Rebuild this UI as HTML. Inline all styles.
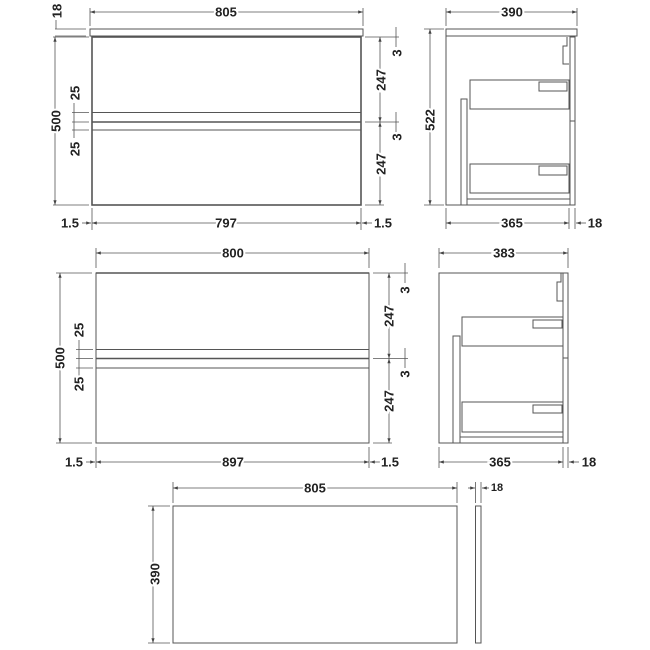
<!DOCTYPE html>
<html><head><meta charset="utf-8"><style>
html,body{margin:0;padding:0;background:#fff}
svg{display:block}
text{font-family:"Liberation Sans",sans-serif;font-weight:bold;font-size:13px;fill:#222;paint-order:stroke;stroke:#fff;stroke-width:4px;text-anchor:middle;dominant-baseline:central}
.l{stroke:#555;stroke-width:1;fill:none}
.b{stroke:#555;stroke-width:1.6;fill:none}
.d{stroke:#555;stroke-width:0.8;fill:none}
</style></head><body>
<svg width="650" height="650" viewBox="0 0 650 650">
<defs>
<marker id="a" viewBox="0 0 6 6" refX="6" refY="3" markerWidth="6" markerHeight="6" orient="auto-start-reverse"><path d="M0,1 L6,3 L0,5z" fill="#444"/></marker>
</defs>

<!-- ===== TOP LEFT FRONT ===== -->
<rect class="l" x="90" y="29" width="273" height="7"/>
<rect class="b" x="92" y="37" width="269" height="168"/>
<line class="l" x1="92" y1="112.5" x2="361" y2="112.5"/>
<line class="b" x1="92" y1="122" x2="361" y2="122"/>
<line class="l" x1="92" y1="130" x2="361" y2="130"/>
<line class="d" x1="90" y1="8" x2="90" y2="26"/><line class="d" x1="363" y1="8" x2="363" y2="26"/>
<line class="d" x1="90" y1="12" x2="363" y2="12" marker-start="url(#a)" marker-end="url(#a)"/>
<text x="226" y="12">805</text>
<line class="d" x1="55" y1="29" x2="86" y2="29"/><line class="d" x1="55" y1="36" x2="86" y2="36"/>
<line class="d" x1="56" y1="20" x2="56" y2="29"/>
<text transform="translate(57,11) rotate(-90)">18</text>
<line class="d" x1="53" y1="37" x2="89" y2="37"/><line class="d" x1="53" y1="205" x2="89" y2="205"/>
<line class="d" x1="55" y1="37" x2="55" y2="205" marker-start="url(#a)" marker-end="url(#a)"/>
<text transform="translate(56,121) rotate(-90)">500</text>
<line class="d" x1="72" y1="112.5" x2="89" y2="112.5"/><line class="d" x1="72" y1="122" x2="89" y2="122"/><line class="d" x1="72" y1="130" x2="89" y2="130"/>
<line class="d" x1="74" y1="103" x2="74" y2="138"/>
<text transform="translate(75,93) rotate(-90)">25</text>
<text transform="translate(75,149) rotate(-90)">25</text>
<line class="d" x1="365" y1="37" x2="399" y2="37"/><line class="d" x1="365" y1="122" x2="399" y2="122"/><line class="d" x1="365" y1="205" x2="384" y2="205"/>
<line class="d" x1="380" y1="37" x2="380" y2="122" marker-start="url(#a)" marker-end="url(#a)"/>
<line class="d" x1="380" y1="122" x2="380" y2="205" marker-start="url(#a)" marker-end="url(#a)"/>
<text transform="translate(381,80) rotate(-90)">247</text>
<text transform="translate(381,164) rotate(-90)">247</text>
<line class="d" x1="396" y1="27" x2="396" y2="47"/><line class="d" x1="396" y1="112" x2="396" y2="132"/>
<text transform="translate(397,53) rotate(-90)">3</text>
<text transform="translate(397,137) rotate(-90)">3</text>
<line class="d" x1="92" y1="208" x2="92" y2="230"/><line class="d" x1="361" y1="208" x2="361" y2="230"/>
<line class="d" x1="92" y1="223" x2="361" y2="223" marker-start="url(#a)" marker-end="url(#a)"/>
<line class="d" x1="82" y1="223" x2="91" y2="223" marker-end="url(#a)"/>
<line class="d" x1="372" y1="223" x2="362" y2="223" marker-end="url(#a)"/>
<text x="226" y="223">797</text>
<text x="70" y="223">1.5</text>
<text x="383" y="223">1.5</text>

<!-- ===== TOP RIGHT SIDE ===== -->
<rect class="l" x="446" y="29" width="131" height="7"/>
<polyline class="l" points="446,36 446,205 570,205"/>
<rect class="l" x="570" y="37" width="5" height="168"/>
<line class="l" x1="570" y1="121" x2="575" y2="121"/>
<polyline class="l" points="567,37 567,46 563,46 563,64 569,64"/>
<rect class="l" x="461" y="99" width="6" height="106"/>
<line class="l" x1="467" y1="199" x2="570" y2="199"/>
<rect class="l" x="470" y="80" width="99" height="29"/>
<rect class="l" x="539" y="82" width="28" height="9"/>
<rect class="l" x="470" y="164" width="99" height="29"/>
<rect class="l" x="539" y="166" width="28" height="9"/>
<line class="d" x1="446" y1="8" x2="446" y2="26"/><line class="d" x1="577" y1="8" x2="577" y2="26"/>
<line class="d" x1="446" y1="12" x2="577" y2="12" marker-start="url(#a)" marker-end="url(#a)"/>
<text x="512" y="12">390</text>
<line class="d" x1="424" y1="29" x2="444" y2="29"/><line class="d" x1="424" y1="205" x2="444" y2="205"/>
<line class="d" x1="430" y1="29" x2="430" y2="205" marker-start="url(#a)" marker-end="url(#a)"/>
<text transform="translate(430,120) rotate(-90)">522</text>
<line class="d" x1="446" y1="208" x2="446" y2="229"/><line class="d" x1="569" y1="208" x2="569" y2="229"/><line class="d" x1="575" y1="208" x2="575" y2="229"/>
<line class="d" x1="446" y1="223" x2="569" y2="223" marker-start="url(#a)" marker-end="url(#a)"/>
<line class="d" x1="586" y1="223" x2="576" y2="223" marker-end="url(#a)"/>
<text x="512" y="223">365</text>
<text x="595" y="223">18</text>

<!-- ===== MIDDLE LEFT FRONT ===== -->
<rect class="l" x="96" y="273" width="273" height="170"/>
<line class="b" x1="96" y1="273" x2="369" y2="273"/>
<line class="l" x1="96" y1="349.5" x2="369" y2="349.5"/>
<line class="b" x1="96" y1="358.5" x2="369" y2="358.5"/>
<line class="l" x1="96" y1="368" x2="369" y2="368"/>
<line class="d" x1="96" y1="248" x2="96" y2="268"/><line class="d" x1="369" y1="248" x2="369" y2="268"/>
<line class="d" x1="96" y1="253" x2="369" y2="253" marker-start="url(#a)" marker-end="url(#a)"/>
<text x="233" y="253">800</text>
<line class="d" x1="56" y1="273" x2="92" y2="273"/><line class="d" x1="56" y1="443" x2="92" y2="443"/>
<line class="d" x1="60" y1="273" x2="60" y2="443" marker-start="url(#a)" marker-end="url(#a)"/>
<text transform="translate(60,358) rotate(-90)">500</text>
<line class="d" x1="76" y1="349.5" x2="93" y2="349.5"/><line class="d" x1="76" y1="358.5" x2="93" y2="358.5"/><line class="d" x1="76" y1="368" x2="93" y2="368"/>
<line class="d" x1="79" y1="340" x2="79" y2="376"/>
<text transform="translate(79,330) rotate(-90)">25</text>
<text transform="translate(79,384) rotate(-90)">25</text>
<line class="d" x1="373" y1="273" x2="408" y2="273"/><line class="d" x1="373" y1="358.5" x2="408" y2="358.5"/><line class="d" x1="373" y1="443" x2="392" y2="443"/>
<line class="d" x1="389" y1="273" x2="389" y2="358.5" marker-start="url(#a)" marker-end="url(#a)"/>
<line class="d" x1="389" y1="358.5" x2="389" y2="443" marker-start="url(#a)" marker-end="url(#a)"/>
<text transform="translate(389,316) rotate(-90)">247</text>
<text transform="translate(389,401) rotate(-90)">247</text>
<line class="d" x1="405" y1="263" x2="405" y2="283"/><line class="d" x1="405" y1="348" x2="405" y2="368"/>
<text transform="translate(405,290) rotate(-90)">3</text>
<text transform="translate(405,374) rotate(-90)">3</text>
<line class="d" x1="96" y1="447" x2="96" y2="468"/><line class="d" x1="369" y1="447" x2="369" y2="468"/>
<line class="d" x1="96" y1="462" x2="369" y2="462" marker-start="url(#a)" marker-end="url(#a)"/>
<line class="d" x1="86" y1="462" x2="95" y2="462" marker-end="url(#a)"/>
<line class="d" x1="380" y1="462" x2="370" y2="462" marker-end="url(#a)"/>
<text x="233" y="462">897</text>
<text x="74" y="462">1.5</text>
<text x="390" y="462">1.5</text>

<!-- ===== MIDDLE RIGHT SIDE ===== -->
<polyline class="l" points="563,273 439,273 439,443 563,443"/>
<rect class="l" x="563" y="273" width="5" height="170"/>
<line class="l" x1="563" y1="358" x2="568" y2="358"/>
<polyline class="l" points="561,273 561,282 557,282 557,301 563,301"/>
<rect class="l" x="453" y="336" width="7" height="107"/>
<line class="l" x1="460" y1="437" x2="563" y2="437"/>
<rect class="l" x="462" y="317" width="101" height="29"/>
<rect class="l" x="533" y="320" width="29" height="8"/>
<rect class="l" x="462" y="402" width="101" height="30"/>
<rect class="l" x="533" y="405" width="29" height="8"/>
<line class="d" x1="439" y1="248" x2="439" y2="268"/><line class="d" x1="568" y1="248" x2="568" y2="268"/>
<line class="d" x1="439" y1="253" x2="568" y2="253" marker-start="url(#a)" marker-end="url(#a)"/>
<text x="504" y="253">383</text>
<line class="d" x1="439" y1="447" x2="439" y2="468"/><line class="d" x1="563" y1="447" x2="563" y2="468"/><line class="d" x1="568" y1="447" x2="568" y2="468"/>
<line class="d" x1="439" y1="462" x2="563" y2="462" marker-start="url(#a)" marker-end="url(#a)"/>
<line class="d" x1="579" y1="462" x2="569" y2="462" marker-end="url(#a)"/>
<text x="500" y="462">365</text>
<text x="589" y="462">18</text>

<!-- ===== BOTTOM WORKTOP ===== -->
<rect class="l" x="173" y="506" width="284" height="137"/>
<rect class="l" x="475.5" y="506" width="5.5" height="137"/>
<line class="d" x1="173" y1="482" x2="173" y2="503"/><line class="d" x1="457" y1="482" x2="457" y2="503"/>
<line class="d" x1="173" y1="488" x2="457" y2="488" marker-start="url(#a)" marker-end="url(#a)"/>
<text x="315" y="488">805</text>
<line class="d" x1="148" y1="506" x2="170" y2="506"/><line class="d" x1="148" y1="643" x2="170" y2="643"/>
<line class="d" x1="153" y1="506" x2="153" y2="643" marker-start="url(#a)" marker-end="url(#a)"/>
<text transform="translate(155,574) rotate(-90)">390</text>
<line class="d" x1="475.5" y1="482" x2="475.5" y2="503"/><line class="d" x1="481" y1="482" x2="481" y2="503"/>
<line class="d" x1="468" y1="488" x2="475" y2="488" marker-end="url(#a)"/>
<line class="d" x1="489" y1="488" x2="482" y2="488" marker-end="url(#a)"/>
<text x="497" y="488" style="font-size:11px">18</text>
</svg>
</body></html>
